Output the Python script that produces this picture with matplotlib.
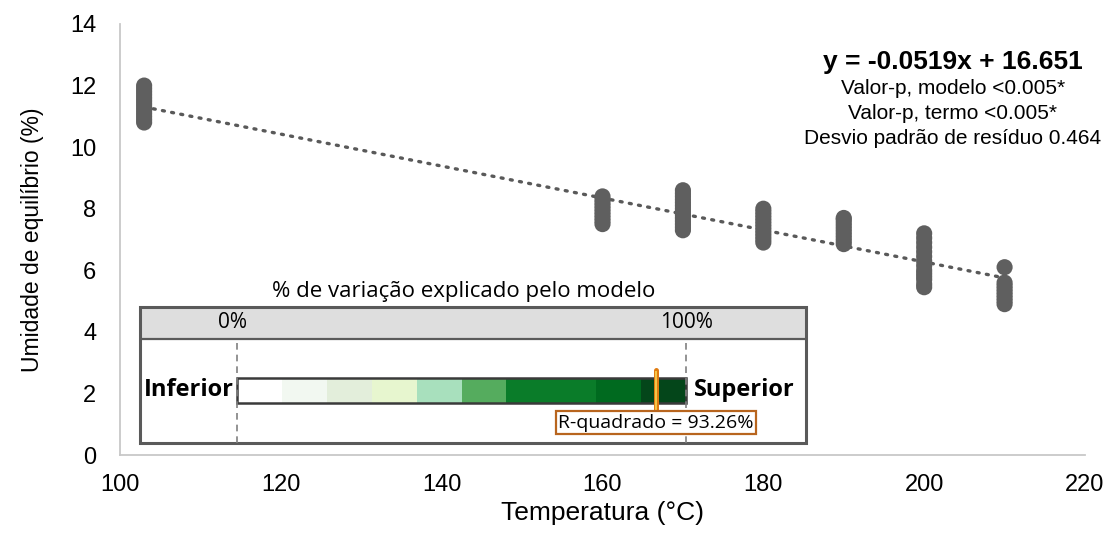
import numpy as np
import matplotlib.pyplot as plt
from matplotlib.patches import Rectangle

plt.rcParams['font.family'] = ['Liberation Sans', 'DejaVu Sans']

# Dados de umidade de equilíbrio por temperatura
temp_103 = [10.8, 10.9, 11.0, 11.1, 11.2, 11.3, 11.4, 11.5, 11.6, 11.7, 11.8, 11.9, 12.0]
temp_160 = [7.5, 7.6, 7.7, 7.8, 7.9, 8.0, 8.1, 8.2, 8.3, 8.4]
temp_170 = [7.3, 7.4, 7.5, 7.6, 7.7, 7.8, 7.9, 8.0, 8.1, 8.2, 8.3, 8.4, 8.5, 8.6]
temp_180 = [6.9, 7.0, 7.1, 7.2, 7.3, 7.4, 7.5, 7.6, 7.7, 7.8, 7.9, 8.0]
temp_190 = [6.85, 6.95, 7.05, 7.15, 7.25, 7.35, 7.45, 7.55, 7.65, 7.7]
temp_200 = [5.45, 5.55, 5.7, 5.8, 5.9, 6.0, 6.15, 6.3, 6.45, 6.6, 6.75, 6.9, 7.05, 7.2]
temp_210 = [4.9, 5.0, 5.1, 5.2, 5.3, 5.4, 5.5, 5.6, 6.1]

temperaturas = [103, 160, 170, 180, 190, 200, 210]
umidades = [temp_103, temp_160, temp_170, temp_180, temp_190, temp_200, temp_210]

# Ajuste linear
coef_a = -0.0519
coef_b = 16.651
r2 = 93.26

# Faixas de cor da barra de R-quadrado (%)
faixas = [0, 10, 20, 30, 40, 50, 60, 80, 90, 100]
cores_faixas = ['#ffffff', '#f2f8f1', '#e3eedb', '#e7f6cf', '#a8e0bd',
                '#55ac5e', '#0a7c29', '#006a1f', '#04461a']

W, H = 1114, 538
fig = plt.figure(figsize=(W / 100, H / 100), dpi=100)
ax = fig.add_axes([120 / W, 1 - 455 / H, (1085 - 120) / W, (455 - 24) / H])

x = np.concatenate([[t] * len(u) for t, u in zip(temperaturas, umidades)])
y = np.concatenate(umidades)
ax.scatter(x, y, s=135, color='#5f5f5f', edgecolors='none', zorder=3)

xl = np.array([temperaturas[0], temperaturas[-1]])
ax.plot(xl, coef_a * xl + coef_b, linestyle=(0, (0.6, 2.2)), color='#595959',
        lw=2.4, dash_capstyle='round', zorder=2)

ax.set_xlim(100, 220)
ax.set_ylim(0, 14)
ax.set_xticks(range(100, 221, 20))
ax.set_yticks(range(0, 15, 2))
ax.tick_params(length=0, labelsize=17, colors='black')
ax.tick_params(axis='x', pad=14)
ax.tick_params(axis='y', pad=17)
for s in ['top', 'right']:
    ax.spines[s].set_visible(False)
for s in ['left', 'bottom']:
    ax.spines[s].set_color('#c8c8c8')
    ax.spines[s].set_linewidth(1.3)
ax.set_xlabel('Temperatura (°C)', fontsize=19, labelpad=3)
ax.set_ylabel('Umidade de equilíbrio (%)', fontsize=16.5, labelpad=19)

ax.text(0.863, 0.912, 'y = -0.0519x + 16.651', transform=ax.transAxes,
        ha='center', va='center', fontsize=19, fontweight='bold')
linhas = ['Valor-p, modelo <0.005*', 'Valor-p, termo <0.005*',
          'Desvio padrão de resíduo 0.464']
for i, txt in enumerate(linhas):
    ax.text(0.863, 0.851 - i * 0.058, txt, transform=ax.transAxes,
            ha='center', va='center', fontsize=15)

# Quadro do R-quadrado
fonte_q = ['Open Sans', 'DejaVu Sans']
px0, px100 = 237, 686
esc = (px100 - px0) / 100.0
bl, br, bt, bb = 140, 806, 307, 443
ins = fig.add_axes([bl / W, 1 - bb / H, (br - bl) / W, (bb - bt) / H])
ins.set_xlim((bl - px0) / esc, (br - px0) / esc)
ins.set_ylim(0, bb - bt)
ins.axis('off')
xmin, xmax = ins.get_xlim()
topo = bb - bt
cab = topo - (339 - bt)
ins.add_patch(Rectangle((xmin, cab), xmax - xmin, topo - cab, facecolor='#dedede',
                        edgecolor='none'))
ins.add_patch(Rectangle((xmin, 0), xmax - xmin, topo, facecolor='none',
                        edgecolor='#5a5a5a', lw=2.2, clip_on=False))
ins.plot([xmin, xmax], [cab, cab], color='#5a5a5a', lw=1.6)
for xv in [0, 100]:
    ins.plot([xv, xv], [0, cab], color='#808080', lw=1.2, linestyle=(0, (4, 3)))
ins.text(-1, (topo + cab) / 2, '0%', ha='center', va='center', fontsize=15,
         family=fonte_q)
ins.text(100, (topo + cab) / 2, '100%', ha='center', va='center', fontsize=15,
         family=fonte_q)

y0b, y1b = bb - 403, bb - 378
for a, b, c in zip(faixas[:-1], faixas[1:], cores_faixas):
    ins.add_patch(Rectangle((a, y0b), b - a, y1b - y0b, facecolor=c, edgecolor='none'))
ins.add_patch(Rectangle((0, y0b), 100, y1b - y0b, facecolor='none',
                        edgecolor='#3a3a3a', lw=1.8))
ymid = (y0b + y1b) / 2
ins.text(-0.6, ymid, 'Inferior', ha='right', va='center', fontsize=17,
         fontweight='bold', family=fonte_q)
ins.text(101.8, ymid, 'Superior', ha='left', va='center', fontsize=17,
         fontweight='bold', family=fonte_q)

ins.plot([r2, r2], [bb - 412, bb - 370], color='#e07b10', lw=3.6,
         solid_capstyle='round', zorder=4)
ins.plot([r2, r2], [bb - 410, bb - 372], color='#f6c84a', lw=1.4, zorder=5)
ins.text(r2, bb - 422.5, 'R-quadrado = %.2f%%' % r2, ha='center', va='center',
         fontsize=14, family=fonte_q, zorder=6,
         bbox=dict(boxstyle='square,pad=0.12', facecolor='white',
                   edgecolor='#b8651e', lw=1.6))

fig.text(464 / W, 1 - 291 / H, '% de variação explicado pelo modelo',
         ha='center', va='center', fontsize=16, family=fonte_q)

fig.savefig('out.png', dpi=100)
